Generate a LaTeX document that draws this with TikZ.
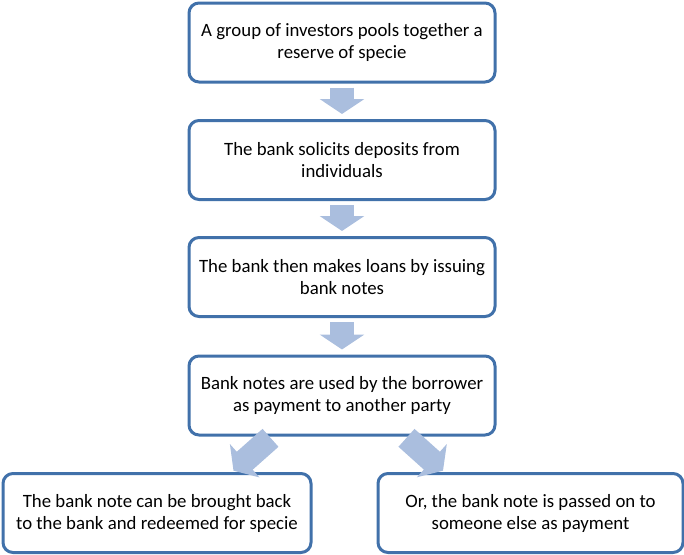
\documentclass[tikz,border=0pt]{standalone}
\usepackage{fontspec}
\setmainfont{Carlito}
\usetikzlibrary{arrows.meta,positioning}
\definecolor{boxline}{RGB}{65,113,170}
\definecolor{arrowfill}{RGB}{170,190,222}
\begin{document}
\begin{tikzpicture}[x=1pt,y=1pt]
\useasboundingbox (0,0) rectangle (684,-554);
\tikzstyle{box}=[draw=boxline, line width=3pt, rounded corners=10pt, fill=white, minimum height=79pt, align=center, font=\fontsize{18.8}{22}\selectfont]
\tikzstyle{fat}=[draw=arrowfill, line width=24pt, -{Triangle[width=44pt,length=15pt]}, shorten <=4pt, shorten >=5pt]
\node[box, minimum width=306pt](A) at (342,-42.5) {A group of investors pools together a\\reserve of specie};
\node[box, minimum width=306pt](B) at (342,-160) {The bank solicits deposits from\\individuals};
\node[box, minimum width=306pt](C) at (342,-277) {The bank then makes loans by issuing\\bank notes};
\node[box, minimum width=306pt](D) at (342,-395.5) {Bank notes are used by the borrower\\as payment to another party};
\node[box, minimum width=308pt](E) at (157,-513) {The bank note can be brought back\\to the bank and redeemed for specie};
\node[box, minimum width=305pt](F) at (530.5,-513) {Or, the bank note is passed on to\\someone else as payment};
\draw[fat] (A) -- (B);
\draw[fat] (B) -- (C);
\draw[fat] (C) -- (D);
\draw[fat, shorten <=2pt, shorten >=2pt] ([xshift=-70pt]D.south) -- ([xshift=75pt]E.north);
\draw[fat, shorten <=2pt, shorten >=2pt] ([xshift=63pt]D.south) -- ([xshift=-86pt]F.north);
\end{tikzpicture}
\end{document}
